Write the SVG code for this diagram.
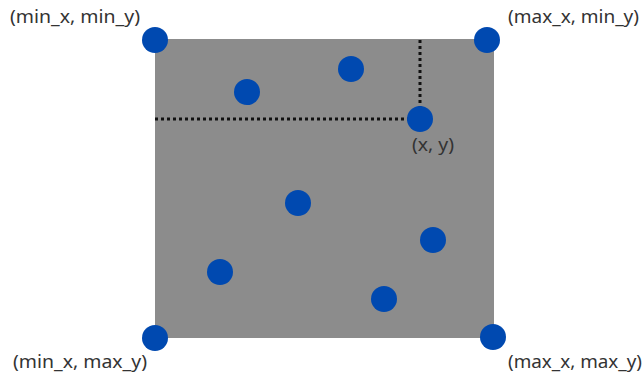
<svg xmlns="http://www.w3.org/2000/svg" width="644" height="376" viewBox="0 0 644 376">
<style>
.pt{fill:#0049b0}
.lbl{font-family:"Noto Sans","Liberation Sans",sans-serif;font-size:18px;fill:#333}
.dot{stroke:#111;stroke-width:3;stroke-dasharray:3 3;fill:none}
</style>
<rect x="155" y="39" width="339" height="299" fill="#8c8c8c"/>
<g id="connectors">
<line class="dot" x1="155" y1="119" x2="420" y2="119"/>
<line class="dot" x1="420" y1="40" x2="420" y2="119"/>
</g>
<g id="p1"><circle class="pt" cx="247" cy="92" r="13"/></g>
<g id="p2"><circle class="pt" cx="351" cy="69" r="13"/></g>
<g id="p3"><circle class="pt" cx="298" cy="203" r="13"/></g>
<g id="p4"><circle class="pt" cx="433" cy="240" r="13"/></g>
<g id="p5"><circle class="pt" cx="220" cy="272" r="13"/></g>
<g id="p6"><circle class="pt" cx="384" cy="299" r="13"/></g>
<g id="xy"><circle class="pt" cx="420" cy="119" r="13"/><text class="lbl" x="412" y="151" textLength="42" lengthAdjust="spacingAndGlyphs">(x, y)</text></g>
<g id="tl"><circle class="pt" cx="155" cy="40" r="13"/><text class="lbl" x="10" y="23" textLength="130" lengthAdjust="spacingAndGlyphs">(min_x, min_y)</text></g>
<g id="tr"><circle class="pt" cx="487" cy="40" r="13"/><text class="lbl" x="508" y="23" textLength="131" lengthAdjust="spacingAndGlyphs">(max_x, min_y)</text></g>
<g id="bl"><circle class="pt" cx="155" cy="338" r="13"/><text class="lbl" x="13" y="368" textLength="134" lengthAdjust="spacingAndGlyphs">(min_x, max_y)</text></g>
<g id="br"><circle class="pt" cx="493" cy="337" r="13"/><text class="lbl" x="508" y="368" textLength="134" lengthAdjust="spacingAndGlyphs">(max_x, max_y)</text></g>
</svg>
